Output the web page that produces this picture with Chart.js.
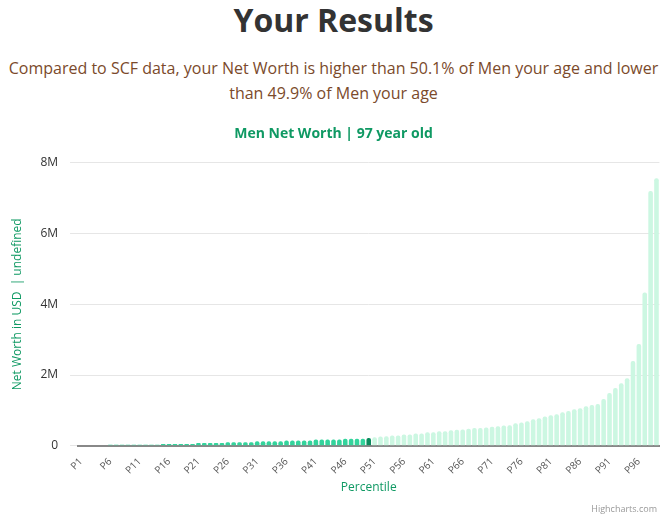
<!DOCTYPE html>
<html><head><meta charset="utf-8">
<script src="https://cdn.jsdelivr.net/npm/chart.js@4"></script>
<style>
body{margin:0;width:667px;height:519px;background:#fff;font-family:"Open Sans",sans-serif;position:relative;overflow:hidden}
#t{position:absolute;top:0;left:0;width:667px;text-align:center;font-size:32px;font-weight:bold;color:#333;line-height:40px}
#s{position:absolute;top:56px;left:0;width:667px;text-align:center;font-size:16px;color:#7b4a2b;line-height:25px}
#w{position:absolute;top:118px;left:0;width:667px;height:401px}
#c{position:absolute;right:10px;bottom:4px;font-size:9px;color:#999}
</style></head><body>
<div id="t">Your Results</div>
<div id="s">Compared to SCF data, your Net Worth is higher than 50.1% of Men your age and lower<br>than 49.9% of Men your age</div>
<div id="w"><canvas id="cv"></canvas></div>
<div id="c">Highcharts.com</div>
<script>
const categories = Array.from({length:99},(_, i)=>'P'+(i+1));
const netWorthM = [
0,0,0,0,0,0.03,0.03,0.03,0.03,0.03,0.03,0.03,0.03,0.03,
0.05,0.05,0.05,0.05,0.05,0.05,
0.08,0.08,0.08,0.08,0.08,
0.1,0.1,0.1,0.1,0.1,
0.13,0.13,0.13,0.13,0.13,
0.15,0.15,0.15,0.15,0.15,
0.18,0.18,0.18,0.18,0.18,
0.2,0.2,0.2,0.2,0.22,
0.24,0.26,0.27,0.29,0.29,0.32,0.32,0.35,0.35,0.38,0.38,0.41,0.41,0.44,0.45,0.46,0.48,0.5,0.5,0.52,
0.54,0.55,0.57,0.58,0.64,0.66,0.69,0.75,0.78,0.83,0.86,0.89,0.95,0.98,1.03,1.06,1.12,1.15,1.18,1.32,
1.49,1.63,1.77,1.91,2.4,2.88,4.33,7.2,7.56];
const userIndex = 49;
const yTicks = [0,2,4,6,8];
const values = netWorthM.map(v=>v*1e6);
const colors = values.map((v,i)=> i<userIndex ? '#33d49c' : i===userIndex ? '#0b8a5c' : '#ccf7e2');
new Chart(document.getElementById('cv'),{
 type:'bar',
 data:{labels:categories,datasets:[{data:values,backgroundColor:colors,barPercentage:0.78,categoryPercentage:1,borderRadius:{topLeft:2,topRight:2}}]},
 options:{responsive:true,maintainAspectRatio:false,animation:false,
  layout:{padding:{left:6,right:6,bottom:20}},
  plugins:{legend:{display:false},tooltip:{enabled:false},
   title:{display:true,text:'Men Net Worth | 97 year old',color:'#0f9963',font:{family:'Open Sans',size:14,weight:'bold'},padding:{top:8,bottom:20}}},
  scales:{
   x:{grid:{display:false},border:{color:'#888',width:2},
      ticks:{autoSkip:false,maxRotation:45,minRotation:45,color:'#555',font:{family:'Open Sans',size:10},padding:2,
        callback:(v,i)=> i%5===0 ? categories[i] : ''},
      title:{display:true,text:'Percentile',color:'#0f9963',font:{family:'Open Sans',size:12},padding:{top:2}}},
   y:{min:0,max:8e6,afterBuildTicks:a=>{a.ticks=yTicks.map(v=>({value:v*1e6}));},
      grid:{color:'#e6e6e6'},border:{display:false},
      ticks:{color:'#333',font:{family:'Open Sans',size:12},padding:12,callback:v=>v===0?'0':(v/1e6)+'M'},
      title:{display:true,text:'Net Worth in USD  | undefined',color:'#0f9963',font:{family:'Open Sans',size:12}}}
  }}
});
</script></body></html>
